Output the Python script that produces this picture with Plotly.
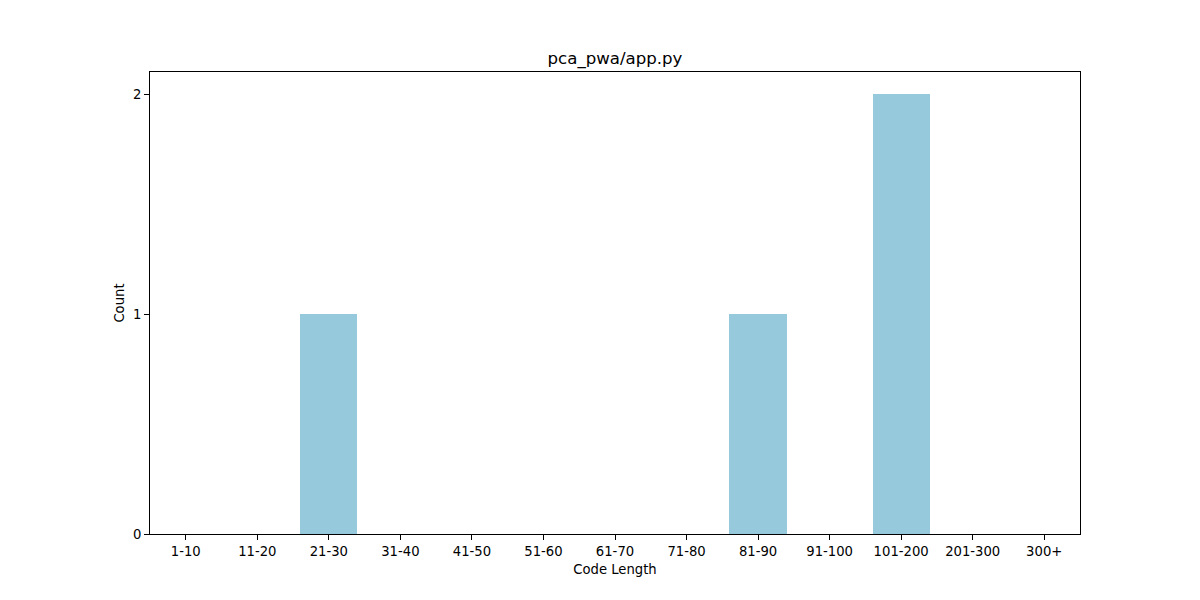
import plotly.graph_objects as go

# faixas de tamanho de código e contagens
categories = ["1-10", "11-20", "21-30", "31-40", "41-50", "51-60", "61-70",
              "71-80", "81-90", "91-100", "101-200", "201-300", "300+"]
counts = [0, 0, 1, 0, 0, 0, 0, 0, 1, 0, 2, 0, 0]

bar_color = "#96C9DC"
font = "DejaVu Sans"
fsize = 13.2

fig = go.Figure()
fig.add_trace(go.Bar(x=list(range(len(categories))), y=counts,
                     marker=dict(color=bar_color, line=dict(width=0)),
                     width=0.8))

axis_style = dict(showline=True, linecolor="black", linewidth=1, mirror=True,
                  ticks="outside", ticklen=5, tickcolor="black",
                  showgrid=False, zeroline=False,
                  tickfont=dict(family=font, size=fsize, color="black"))

fig.update_xaxes(range=[-0.5, 12.5], tickvals=list(range(len(categories))),
                 ticktext=categories,
                 title=dict(text="Code Length", font=dict(family=font, size=fsize, color="black"),
                            standoff=6),
                 **axis_style)
fig.update_yaxes(range=[0, 2.1], tickvals=[0, 1, 2],
                 title=dict(text="Count", font=dict(family=font, size=fsize, color="black"),
                            standoff=5),
                 **axis_style)

# a página tem 8px de margem no body, então compensa aqui
fig.update_layout(
    title=dict(text="pca_pwa/app.py", x=(615 - 8) / 1200, xanchor="center",
               y=1 - 50 / 600, yanchor="middle",
               font=dict(family=font, size=16.6, color="black")),
    width=1200, height=600,
    margin=dict(l=142, r=128, t=64, b=74),
    plot_bgcolor="white", paper_bgcolor="white",
    showlegend=False,
    bargap=0,
)

fig.write_html("out.html")
